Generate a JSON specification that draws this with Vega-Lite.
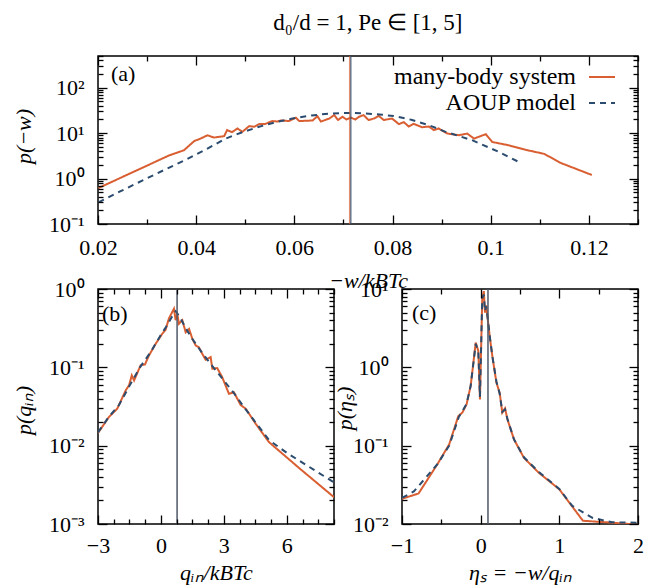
{
  "$schema": "https://vega.github.io/schema/vega-lite/v6.json",
  "background": "white",
  "padding": {"left": 11, "top": 11, "right": 10, "bottom": 5},
  "title": {"text": "d₀/d = 1, Pe ∈ [1, 5]", "anchor": "start", "frame": "bounds", "dx": 262, "fontSize": 23, "font": "Liberation Serif", "fontWeight": "normal", "color": "black", "offset": 20},
  "bounds": "flush",
  "spacing": 65,
  "resolve": {"scale": {"color": "independent", "strokeDash": "independent"}},
  "datasets": {
    "a": [
      {"x": 0.0201, "p": 0.62, "series": "many-body system"},
      {"x": 0.0345, "p": 3.24, "series": "many-body system"},
      {"x": 0.0375, "p": 4.2, "series": "many-body system"},
      {"x": 0.0396, "p": 6.7, "series": "many-body system"},
      {"x": 0.0409, "p": 7.6, "series": "many-body system"},
      {"x": 0.0423, "p": 9.0, "series": "many-body system"},
      {"x": 0.0436, "p": 8.0, "series": "many-body system"},
      {"x": 0.0457, "p": 8.6, "series": "many-body system"},
      {"x": 0.0463, "p": 11.7, "series": "many-body system"},
      {"x": 0.0473, "p": 10.5, "series": "many-body system"},
      {"x": 0.0484, "p": 12.7, "series": "many-body system"},
      {"x": 0.0494, "p": 10.7, "series": "many-body system"},
      {"x": 0.0508, "p": 14.3, "series": "many-body system"},
      {"x": 0.0518, "p": 13.8, "series": "many-body system"},
      {"x": 0.0528, "p": 15.8, "series": "many-body system"},
      {"x": 0.0541, "p": 16, "series": "many-body system"},
      {"x": 0.0555, "p": 18.5, "series": "many-body system"},
      {"x": 0.0565, "p": 18, "series": "many-body system"},
      {"x": 0.0572, "p": 19, "series": "many-body system"},
      {"x": 0.0589, "p": 18.5, "series": "many-body system"},
      {"x": 0.0603, "p": 21.9, "series": "many-body system"},
      {"x": 0.061, "p": 18.5, "series": "many-body system"},
      {"x": 0.0637, "p": 19, "series": "many-body system"},
      {"x": 0.0647, "p": 23.6, "series": "many-body system"},
      {"x": 0.0654, "p": 18, "series": "many-body system"},
      {"x": 0.0671, "p": 21, "series": "many-body system"},
      {"x": 0.0681, "p": 25, "series": "many-body system"},
      {"x": 0.0689, "p": 19.5, "series": "many-body system"},
      {"x": 0.0698, "p": 23, "series": "many-body system"},
      {"x": 0.0706, "p": 20, "series": "many-body system"},
      {"x": 0.0715, "p": 22, "series": "many-body system"},
      {"x": 0.0724, "p": 20, "series": "many-body system"},
      {"x": 0.0732, "p": 23, "series": "many-body system"},
      {"x": 0.0741, "p": 25, "series": "many-body system"},
      {"x": 0.0751, "p": 19.5, "series": "many-body system"},
      {"x": 0.0762, "p": 21, "series": "many-body system"},
      {"x": 0.0772, "p": 24, "series": "many-body system"},
      {"x": 0.0782, "p": 19.5, "series": "many-body system"},
      {"x": 0.0799, "p": 21, "series": "many-body system"},
      {"x": 0.0813, "p": 15.8, "series": "many-body system"},
      {"x": 0.0823, "p": 17.5, "series": "many-body system"},
      {"x": 0.0833, "p": 14, "series": "many-body system"},
      {"x": 0.0843, "p": 16, "series": "many-body system"},
      {"x": 0.086, "p": 13.5, "series": "many-body system"},
      {"x": 0.0874, "p": 14, "series": "many-body system"},
      {"x": 0.0884, "p": 11.7, "series": "many-body system"},
      {"x": 0.0894, "p": 12.7, "series": "many-body system"},
      {"x": 0.0912, "p": 9.8, "series": "many-body system"},
      {"x": 0.0935, "p": 9.0, "series": "many-body system"},
      {"x": 0.0952, "p": 9.8, "series": "many-body system"},
      {"x": 0.0966, "p": 7.6, "series": "many-body system"},
      {"x": 0.099, "p": 9.5, "series": "many-body system"},
      {"x": 0.1003, "p": 6.4, "series": "many-body system"},
      {"x": 0.1037, "p": 5.4, "series": "many-body system"},
      {"x": 0.1071, "p": 4.3, "series": "many-body system"},
      {"x": 0.1109, "p": 3.5, "series": "many-body system"},
      {"x": 0.1143, "p": 2.2, "series": "many-body system"},
      {"x": 0.1206, "p": 1.2, "series": "many-body system"},
      {"x": 0.0201, "p": 0.30, "series": "AOUP model"},
      {"x": 0.0245, "p": 0.52, "series": "AOUP model"},
      {"x": 0.029, "p": 0.90, "series": "AOUP model"},
      {"x": 0.0335, "p": 1.55, "series": "AOUP model"},
      {"x": 0.0382, "p": 2.7, "series": "AOUP model"},
      {"x": 0.042, "p": 4.4, "series": "AOUP model"},
      {"x": 0.046, "p": 7.6, "series": "AOUP model"},
      {"x": 0.0494, "p": 10.5, "series": "AOUP model"},
      {"x": 0.0528, "p": 13.8, "series": "AOUP model"},
      {"x": 0.0562, "p": 17.5, "series": "AOUP model"},
      {"x": 0.0596, "p": 21, "series": "AOUP model"},
      {"x": 0.0635, "p": 24.5, "series": "AOUP model"},
      {"x": 0.0671, "p": 27, "series": "AOUP model"},
      {"x": 0.0718, "p": 28, "series": "AOUP model"},
      {"x": 0.0745, "p": 27, "series": "AOUP model"},
      {"x": 0.0779, "p": 25.5, "series": "AOUP model"},
      {"x": 0.0806, "p": 23.5, "series": "AOUP model"},
      {"x": 0.084, "p": 19.5, "series": "AOUP model"},
      {"x": 0.0874, "p": 15, "series": "AOUP model"},
      {"x": 0.0908, "p": 10.7, "series": "AOUP model"},
      {"x": 0.0962, "p": 7.0, "series": "AOUP model"},
      {"x": 0.1017, "p": 3.85, "series": "AOUP model"},
      {"x": 0.1058, "p": 2.3, "series": "AOUP model"}
    ],
    "b": [
      {"x": -3, "p": 0.0145, "series": "many-body system"},
      {"x": -2.48, "p": 0.0232, "series": "many-body system"},
      {"x": -2.08, "p": 0.0297, "series": "many-body system"},
      {"x": -1.68, "p": 0.0508, "series": "many-body system"},
      {"x": -1.52, "p": 0.059, "series": "many-body system"},
      {"x": -1.39, "p": 0.079, "series": "many-body system"},
      {"x": -1.28, "p": 0.068, "series": "many-body system"},
      {"x": -0.97, "p": 0.106, "series": "many-body system"},
      {"x": -0.76, "p": 0.109, "series": "many-body system"},
      {"x": -0.57, "p": 0.142, "series": "many-body system"},
      {"x": -0.25, "p": 0.20, "series": "many-body system"},
      {"x": -0.09, "p": 0.232, "series": "many-body system"},
      {"x": 0.07, "p": 0.27, "series": "many-body system"},
      {"x": 0.22, "p": 0.30, "series": "many-body system"},
      {"x": 0.38, "p": 0.42, "series": "many-body system"},
      {"x": 0.54, "p": 0.51, "series": "many-body system"},
      {"x": 0.62, "p": 0.56, "series": "many-body system"},
      {"x": 0.7, "p": 0.40, "series": "many-body system"},
      {"x": 0.78, "p": 0.48, "series": "many-body system"},
      {"x": 0.86, "p": 0.36, "series": "many-body system"},
      {"x": 1.02, "p": 0.40, "series": "many-body system"},
      {"x": 1.18, "p": 0.28, "series": "many-body system"},
      {"x": 1.34, "p": 0.31, "series": "many-body system"},
      {"x": 1.5, "p": 0.23, "series": "many-body system"},
      {"x": 1.66, "p": 0.19, "series": "many-body system"},
      {"x": 1.81, "p": 0.18, "series": "many-body system"},
      {"x": 1.97, "p": 0.149, "series": "many-body system"},
      {"x": 2.13, "p": 0.125, "series": "many-body system"},
      {"x": 2.37, "p": 0.135, "series": "many-body system"},
      {"x": 2.45, "p": 0.096, "series": "many-body system"},
      {"x": 2.68, "p": 0.098, "series": "many-body system"},
      {"x": 2.92, "p": 0.075, "series": "many-body system"},
      {"x": 3.24, "p": 0.046, "series": "many-body system"},
      {"x": 3.48, "p": 0.048, "series": "many-body system"},
      {"x": 3.8, "p": 0.033, "series": "many-body system"},
      {"x": 4.04, "p": 0.0297, "series": "many-body system"},
      {"x": 4.52, "p": 0.019, "series": "many-body system"},
      {"x": 5.15, "p": 0.0111, "series": "many-body system"},
      {"x": 6.58, "p": 0.0052, "series": "many-body system"},
      {"x": 8.25, "p": 0.0022, "series": "many-body system"},
      {"x": -3, "p": 0.0148, "series": "AOUP model"},
      {"x": -2.5, "p": 0.023, "series": "AOUP model"},
      {"x": -2, "p": 0.033, "series": "AOUP model"},
      {"x": -1.5, "p": 0.058, "series": "AOUP model"},
      {"x": -1, "p": 0.10, "series": "AOUP model"},
      {"x": -0.5, "p": 0.155, "series": "AOUP model"},
      {"x": 0, "p": 0.26, "series": "AOUP model"},
      {"x": 0.25, "p": 0.33, "series": "AOUP model"},
      {"x": 0.5, "p": 0.43, "series": "AOUP model"},
      {"x": 0.7, "p": 0.52, "series": "AOUP model"},
      {"x": 0.9, "p": 0.44, "series": "AOUP model"},
      {"x": 1.2, "p": 0.31, "series": "AOUP model"},
      {"x": 1.5, "p": 0.23, "series": "AOUP model"},
      {"x": 2, "p": 0.148, "series": "AOUP model"},
      {"x": 2.5, "p": 0.10, "series": "AOUP model"},
      {"x": 3, "p": 0.068, "series": "AOUP model"},
      {"x": 3.5, "p": 0.046, "series": "AOUP model"},
      {"x": 4, "p": 0.030, "series": "AOUP model"},
      {"x": 4.5, "p": 0.020, "series": "AOUP model"},
      {"x": 5.15, "p": 0.0118, "series": "AOUP model"},
      {"x": 6, "p": 0.0081, "series": "AOUP model"},
      {"x": 7, "p": 0.0055, "series": "AOUP model"},
      {"x": 8.25, "p": 0.0034, "series": "AOUP model"}
    ],
    "c": [
      {"x": -1.0, "p": 0.021, "series": "many-body system"},
      {"x": -0.79, "p": 0.0245, "series": "many-body system"},
      {"x": -0.55, "p": 0.058, "series": "many-body system"},
      {"x": -0.40, "p": 0.104, "series": "many-body system"},
      {"x": -0.284, "p": 0.239, "series": "many-body system"},
      {"x": -0.233, "p": 0.264, "series": "many-body system"},
      {"x": -0.18, "p": 0.336, "series": "many-body system"},
      {"x": -0.127, "p": 0.58, "series": "many-body system"},
      {"x": -0.063, "p": 2.07, "series": "many-body system"},
      {"x": -0.03, "p": 1.62, "series": "many-body system"},
      {"x": -0.009, "p": 0.39, "series": "many-body system"},
      {"x": 0.02, "p": 7.4, "series": "many-body system"},
      {"x": 0.04, "p": 9.4, "series": "many-body system"},
      {"x": 0.055, "p": 5.0, "series": "many-body system"},
      {"x": 0.07, "p": 6.2, "series": "many-body system"},
      {"x": 0.09, "p": 4.1, "series": "many-body system"},
      {"x": 0.12, "p": 2.28, "series": "many-body system"},
      {"x": 0.148, "p": 1.4, "series": "many-body system"},
      {"x": 0.2, "p": 0.64, "series": "many-body system"},
      {"x": 0.242, "p": 0.47, "series": "many-body system"},
      {"x": 0.275, "p": 0.264, "series": "many-body system"},
      {"x": 0.31, "p": 0.30, "series": "many-body system"},
      {"x": 0.34, "p": 0.217, "series": "many-body system"},
      {"x": 0.424, "p": 0.12, "series": "many-body system"},
      {"x": 0.55, "p": 0.070, "series": "many-body system"},
      {"x": 0.74, "p": 0.045, "series": "many-body system"},
      {"x": 1.0, "p": 0.0277, "series": "many-body system"},
      {"x": 1.3, "p": 0.011, "series": "many-body system"},
      {"x": 1.48, "p": 0.0107, "series": "many-body system"},
      {"x": 1.67, "p": 0.0104, "series": "many-body system"},
      {"x": 2.0, "p": 0.0098, "series": "many-body system"},
      {"x": -1.0, "p": 0.0215, "series": "AOUP model"},
      {"x": -0.85, "p": 0.026, "series": "AOUP model"},
      {"x": -0.55, "p": 0.058, "series": "AOUP model"},
      {"x": -0.40, "p": 0.100, "series": "AOUP model"},
      {"x": -0.28, "p": 0.23, "series": "AOUP model"},
      {"x": -0.18, "p": 0.34, "series": "AOUP model"},
      {"x": -0.127, "p": 0.58, "series": "AOUP model"},
      {"x": -0.063, "p": 2.0, "series": "AOUP model"},
      {"x": -0.03, "p": 1.6, "series": "AOUP model"},
      {"x": -0.009, "p": 0.42, "series": "AOUP model"},
      {"x": 0.02, "p": 7.6, "series": "AOUP model"},
      {"x": 0.04, "p": 8.5, "series": "AOUP model"},
      {"x": 0.055, "p": 5.2, "series": "AOUP model"},
      {"x": 0.07, "p": 6.0, "series": "AOUP model"},
      {"x": 0.09, "p": 4.2, "series": "AOUP model"},
      {"x": 0.12, "p": 2.3, "series": "AOUP model"},
      {"x": 0.148, "p": 1.4, "series": "AOUP model"},
      {"x": 0.2, "p": 0.66, "series": "AOUP model"},
      {"x": 0.242, "p": 0.46, "series": "AOUP model"},
      {"x": 0.275, "p": 0.27, "series": "AOUP model"},
      {"x": 0.31, "p": 0.29, "series": "AOUP model"},
      {"x": 0.34, "p": 0.22, "series": "AOUP model"},
      {"x": 0.424, "p": 0.12, "series": "AOUP model"},
      {"x": 0.55, "p": 0.071, "series": "AOUP model"},
      {"x": 0.74, "p": 0.046, "series": "AOUP model"},
      {"x": 1.0, "p": 0.028, "series": "AOUP model"},
      {"x": 1.165, "p": 0.017, "series": "AOUP model"},
      {"x": 1.42, "p": 0.012, "series": "AOUP model"},
      {"x": 1.67, "p": 0.0105, "series": "AOUP model"},
      {"x": 2.0, "p": 0.0104, "series": "AOUP model"}
    ],
    "vlines": [
      {"panel": "a", "series": "many-body system", "x": 0.07127},
      {"panel": "a", "series": "AOUP model", "x": 0.0715},
      {"panel": "b", "series": "mean", "x": 0.77},
      {"panel": "c", "series": "mean", "x": 0.093}
    ]
  },
  "vconcat": [
    {
      "width": 540,
      "height": 168,
      "title": {"text": "(a)", "anchor": "start", "orient": "top", "frame": "group", "offset": 0, "dx": 13, "dy": 48, "baseline": "alphabetic", "fontSize": 22, "font": "Liberation Serif", "fontWeight": "normal", "color": "black"},
      "resolve": {"axis": {"x": "independent", "y": "independent"}},
      "layer": [
        {
          "data": {"name": "a"},
          "mark": {"type": "line", "strokeWidth": 2, "clip": true},
          "encoding": {
            "x": {"field": "x", "type": "quantitative", "scale": {"domain": [0.02, 0.13], "nice": false, "zero": false},
              "axis": {"orient": "bottom", "ticks": false, "labelPadding": 13, "title": "−w/kBTc", "titleX": 270, "titleY": 63, "titleBaseline": "alphabetic", "titleAlign": "center",
                "values": [0.02, 0.04, 0.06, 0.08, 0.1, 0.12], "format": "~g"}},
            "y": {"field": "p", "type": "quantitative", "scale": {"type": "log", "domain": [0.1, 500], "nice": false},
              "axis": {"orient": "left", "ticks": false, "labelPadding": 14, "title": "p(−w)", "titleX": -68, "titleY": 80, "titleBaseline": "alphabetic", "titleAlign": "center", "titleAngle": 270,
                "values": [0.1, 1, 10, 100],
                "labelExpr": "'10' + ['⁻³','⁻²','⁻¹','⁰','¹','²','³'][round(log(datum.value)/LN10)+3]"}},
            "color": {"field": "series", "type": "nominal", "scale": {"domain": ["many-body system", "AOUP model"], "range": ["#d95f32", "#2b4c6f"]},
              "legend": {"orient": "none", "legendX": 490, "legendY": 7, "title": null, "labelAlign": "right", "labelOffset": -40, "labelLimit": 400, "symbolType": "stroke", "symbolSize": 676, "symbolStrokeWidth": 2, "rowPadding": 0, "padding": 0, "labelFontSize": 24, "labelFont": "Liberation Serif", "labelColor": "black"}},
            "strokeDash": {"field": "series", "type": "nominal", "scale": {"domain": ["many-body system", "AOUP model"], "range": [[1, 0], [6, 5]]},
              "legend": {"orient": "none", "legendX": 490, "legendY": 7, "title": null, "labelAlign": "right", "labelOffset": -40, "labelLimit": 400, "symbolType": "stroke", "symbolSize": 676, "symbolStrokeWidth": 2, "rowPadding": 0, "padding": 0, "labelFontSize": 24, "labelFont": "Liberation Serif", "labelColor": "black"}}
          }
        },
        {
          "data": {"name": "vlines"},
          "transform": [{"filter": "datum.panel == 'a' && datum.series == 'many-body system'"}],
          "mark": {"type": "rule", "color": "#d95f32", "opacity": 0.7, "strokeWidth": 1.5},
          "encoding": {"x": {"field": "x", "type": "quantitative", "scale": {"domain": [0.02, 0.13], "nice": false, "zero": false}, "axis": null}}
        },
        {
          "data": {"name": "vlines"},
          "transform": [{"filter": "datum.panel == 'a' && datum.series == 'AOUP model'"}],
          "mark": {"type": "rule", "color": "#2b4c6f", "opacity": 0.7, "strokeWidth": 1.5},
          "encoding": {"x": {"field": "x", "type": "quantitative", "scale": {"domain": [0.02, 0.13], "nice": false, "zero": false}, "axis": null}}
        },
        {
          "data": {"name": "a"},
          "mark": {"type": "line", "opacity": 0, "strokeWidth": 0},
          "encoding": {
            "x": {"field": "x", "type": "quantitative", "scale": {"domain": [0.02, 0.13], "nice": false, "zero": false},
              "axis": {"orient": "top", "offset": -168, "zindex": 1, "labels": false, "title": null, "tickSize": 9, "values": [0.02, 0.04, 0.06, 0.08, 0.1, 0.12]}},
            "y": {"field": "p", "type": "quantitative", "scale": {"type": "log", "domain": [0.1, 500], "nice": false},
              "axis": {"orient": "right", "offset": -540, "zindex": 1, "labels": false, "title": null, "tickSize": 9, "values": [0.1, 1, 10, 100]}}
          }
        },
        {
          "data": {"name": "a"},
          "mark": {"type": "line", "opacity": 0, "strokeWidth": 0},
          "encoding": {
            "x": {"field": "x", "type": "quantitative", "scale": {"domain": [0.02, 0.13], "nice": false, "zero": false},
              "axis": {"orient": "top", "offset": -168, "zindex": 1, "labels": false, "title": null, "tickSize": 5, "values": [0.03, 0.05, 0.07, 0.09, 0.11, 0.13]}},
            "y": {"field": "p", "type": "quantitative", "scale": {"type": "log", "domain": [0.1, 500], "nice": false},
              "axis": {"orient": "right", "offset": -540, "zindex": 1, "labels": false, "title": null, "tickSize": 5, "values": [0.2, 0.3, 0.4, 0.5, 0.6, 0.7, 0.8, 0.9, 2, 3, 4, 5, 6, 7, 8, 9, 20, 30, 40, 50, 60, 70, 80, 90, 200, 300, 400, 500]}}
          }
        },
        {
          "data": {"name": "a"},
          "mark": {"type": "line", "opacity": 0, "strokeWidth": 0},
          "encoding": {
            "x": {"field": "x", "type": "quantitative", "scale": {"domain": [0.02, 0.13], "nice": false, "zero": false},
              "axis": {"orient": "bottom", "offset": -168, "zindex": 1, "labels": false, "title": null, "tickSize": 9, "values": [0.02, 0.04, 0.06, 0.08, 0.1, 0.12]}},
            "y": {"field": "p", "type": "quantitative", "scale": {"type": "log", "domain": [0.1, 500], "nice": false},
              "axis": {"orient": "left", "offset": -540, "zindex": 1, "labels": false, "title": null, "tickSize": 9, "values": [0.1, 1, 10, 100]}}
          }
        },
        {
          "data": {"name": "a"},
          "mark": {"type": "line", "opacity": 0, "strokeWidth": 0},
          "encoding": {
            "x": {"field": "x", "type": "quantitative", "scale": {"domain": [0.02, 0.13], "nice": false, "zero": false},
              "axis": {"orient": "bottom", "offset": -168, "zindex": 1, "labels": false, "title": null, "tickSize": 5, "values": [0.03, 0.05, 0.07, 0.09, 0.11, 0.13]}},
            "y": {"field": "p", "type": "quantitative", "scale": {"type": "log", "domain": [0.1, 500], "nice": false},
              "axis": {"orient": "left", "offset": -540, "zindex": 1, "labels": false, "title": null, "tickSize": 5, "values": [0.2, 0.3, 0.4, 0.5, 0.6, 0.7, 0.8, 0.9, 2, 3, 4, 5, 6, 7, 8, 9, 20, 30, 40, 50, 60, 70, 80, 90, 200, 300, 400, 500]}}
          }
        }
      ]
    },
    {
      "bounds": "flush",
      "spacing": 68,
      "resolve": {"scale": {"color": "independent", "strokeDash": "independent"}},
      "hconcat": [
        {
          "width": 236,
          "height": 235,
          "title": {"text": "(b)", "anchor": "start", "orient": "top", "frame": "group", "offset": 0, "dx": 4, "dy": 65, "baseline": "alphabetic", "fontSize": 22, "font": "Liberation Serif", "fontWeight": "normal", "color": "black"},
          "resolve": {"axis": {"x": "independent", "y": "independent"}},
          "layer": [
            {
              "data": {"name": "b"},
              "mark": {"type": "line", "strokeWidth": 2, "clip": true},
              "encoding": {
                "x": {"field": "x", "type": "quantitative", "scale": {"domain": [-3, 8.25], "nice": false, "zero": false},
                  "axis": {"orient": "bottom", "ticks": false, "labelPadding": 11, "title": "qᵢₙ/kBTc", "titleX": 118, "titleY": 55, "titleBaseline": "alphabetic", "titleAlign": "center",
                    "values": [-3, 0, 3, 6], "format": "d"}},
                "y": {"field": "p", "type": "quantitative", "scale": {"type": "log", "domain": [0.001, 1], "nice": false},
                  "axis": {"orient": "left", "ticks": false, "labelPadding": 14, "title": "p(qᵢₙ)", "titleX": -68, "titleY": 121, "titleBaseline": "alphabetic", "titleAlign": "center", "titleAngle": 270,
                    "values": [0.001, 0.01, 0.1, 1],
                    "labelExpr": "'10' + ['⁻³','⁻²','⁻¹','⁰','¹','²','³'][round(log(datum.value)/LN10)+3]"}},
                "color": {"field": "series", "type": "nominal", "scale": {"domain": ["many-body system", "AOUP model"], "range": ["#d95f32", "#2b4c6f"]}, "legend": null},
                "strokeDash": {"field": "series", "type": "nominal", "scale": {"domain": ["many-body system", "AOUP model"], "range": [[1, 0], [6, 5]]}, "legend": null}
              }
            },
            {
              "data": {"name": "vlines"},
              "transform": [{"filter": "datum.panel == 'b'"}],
              "mark": {"type": "rule", "color": "#4f5868", "strokeWidth": 1.5},
              "encoding": {"x": {"field": "x", "type": "quantitative", "scale": {"domain": [-3, 8.25], "nice": false, "zero": false}, "axis": null}}
            },
            {
              "data": {"name": "b"},
              "mark": {"type": "line", "opacity": 0, "strokeWidth": 0},
              "encoding": {
                "x": {"field": "x", "type": "quantitative", "scale": {"domain": [-3, 8.25], "nice": false, "zero": false},
                  "axis": {"orient": "top", "offset": -235, "zindex": 1, "labels": false, "title": null, "tickSize": 9, "values": [-3, 0, 3, 6]}},
                "y": {"field": "p", "type": "quantitative", "scale": {"type": "log", "domain": [0.001, 1], "nice": false},
                  "axis": {"orient": "right", "offset": -236, "zindex": 1, "labels": false, "title": null, "tickSize": 9, "values": [0.001, 0.01, 0.1, 1]}}
              }
            },
            {
              "data": {"name": "b"},
              "mark": {"type": "line", "opacity": 0, "strokeWidth": 0},
              "encoding": {
                "x": {"field": "x", "type": "quantitative", "scale": {"domain": [-3, 8.25], "nice": false, "zero": false},
                  "axis": {"orient": "top", "offset": -235, "zindex": 1, "labels": false, "title": null, "tickSize": 5, "values": [-2.25, -1.5, -0.75, 0.75, 1.5, 2.25, 3.75, 4.5, 5.25, 6.75, 7.5, 8.25]}},
                "y": {"field": "p", "type": "quantitative", "scale": {"type": "log", "domain": [0.001, 1], "nice": false},
                  "axis": {"orient": "right", "offset": -236, "zindex": 1, "labels": false, "title": null, "tickSize": 5, "values": [0.002, 0.003, 0.004, 0.005, 0.006, 0.007, 0.008, 0.009, 0.02, 0.03, 0.04, 0.05, 0.06, 0.07, 0.08, 0.09, 0.2, 0.3, 0.4, 0.5, 0.6, 0.7, 0.8, 0.9]}}
              }
            },
            {
              "data": {"name": "b"},
              "mark": {"type": "line", "opacity": 0, "strokeWidth": 0},
              "encoding": {
                "x": {"field": "x", "type": "quantitative", "scale": {"domain": [-3, 8.25], "nice": false, "zero": false},
                  "axis": {"orient": "bottom", "offset": -235, "zindex": 1, "labels": false, "title": null, "tickSize": 9, "values": [-3, 0, 3, 6]}},
                "y": {"field": "p", "type": "quantitative", "scale": {"type": "log", "domain": [0.001, 1], "nice": false},
                  "axis": {"orient": "left", "offset": -236, "zindex": 1, "labels": false, "title": null, "tickSize": 9, "values": [0.001, 0.01, 0.1, 1]}}
              }
            },
            {
              "data": {"name": "b"},
              "mark": {"type": "line", "opacity": 0, "strokeWidth": 0},
              "encoding": {
                "x": {"field": "x", "type": "quantitative", "scale": {"domain": [-3, 8.25], "nice": false, "zero": false},
                  "axis": {"orient": "bottom", "offset": -235, "zindex": 1, "labels": false, "title": null, "tickSize": 5, "values": [-2.25, -1.5, -0.75, 0.75, 1.5, 2.25, 3.75, 4.5, 5.25, 6.75, 7.5, 8.25]}},
                "y": {"field": "p", "type": "quantitative", "scale": {"type": "log", "domain": [0.001, 1], "nice": false},
                  "axis": {"orient": "left", "offset": -236, "zindex": 1, "labels": false, "title": null, "tickSize": 5, "values": [0.002, 0.003, 0.004, 0.005, 0.006, 0.007, 0.008, 0.009, 0.02, 0.03, 0.04, 0.05, 0.06, 0.07, 0.08, 0.09, 0.2, 0.3, 0.4, 0.5, 0.6, 0.7, 0.8, 0.9]}}
              }
            }
          ]
        },
        {
          "width": 236,
          "height": 235,
          "title": {"text": "(c)", "anchor": "start", "orient": "top", "frame": "group", "offset": 0, "dx": 10, "dy": 64, "baseline": "alphabetic", "fontSize": 22, "font": "Liberation Serif", "fontWeight": "normal", "color": "black"},
          "resolve": {"axis": {"x": "independent", "y": "independent"}},
          "layer": [
            {
              "data": {"name": "c"},
              "mark": {"type": "line", "strokeWidth": 2, "clip": true},
              "encoding": {
                "x": {"field": "x", "type": "quantitative", "scale": {"domain": [-1, 2], "nice": false, "zero": false},
                  "axis": {"orient": "bottom", "ticks": false, "labelPadding": 11, "title": "ηₛ = −w/qᵢₙ", "titleX": 118, "titleY": 55, "titleBaseline": "alphabetic", "titleAlign": "center",
                    "values": [-1, 0, 1, 2], "format": "d"}},
                "y": {"field": "p", "type": "quantitative", "scale": {"type": "log", "domain": [0.01, 10], "nice": false},
                  "axis": {"orient": "left", "ticks": false, "labelPadding": 14, "title": "p(ηₛ)", "titleX": -51, "titleY": 119, "titleBaseline": "alphabetic", "titleAlign": "center", "titleAngle": 270,
                    "values": [0.01, 0.1, 1, 10],
                    "labelExpr": "'10' + ['⁻³','⁻²','⁻¹','⁰','¹','²','³'][round(log(datum.value)/LN10)+3]"}},
                "color": {"field": "series", "type": "nominal", "scale": {"domain": ["many-body system", "AOUP model"], "range": ["#d95f32", "#2b4c6f"]}, "legend": null},
                "strokeDash": {"field": "series", "type": "nominal", "scale": {"domain": ["many-body system", "AOUP model"], "range": [[1, 0], [6, 5]]}, "legend": null}
              }
            },
            {
              "data": {"name": "vlines"},
              "transform": [{"filter": "datum.panel == 'c'"}],
              "mark": {"type": "rule", "color": "#4f5868", "strokeWidth": 1.5},
              "encoding": {"x": {"field": "x", "type": "quantitative", "scale": {"domain": [-1, 2], "nice": false, "zero": false}, "axis": null}}
            },
            {
              "data": {"name": "c"},
              "mark": {"type": "line", "opacity": 0, "strokeWidth": 0},
              "encoding": {
                "x": {"field": "x", "type": "quantitative", "scale": {"domain": [-1, 2], "nice": false, "zero": false},
                  "axis": {"orient": "top", "offset": -235, "zindex": 1, "labels": false, "title": null, "tickSize": 9, "values": [-1, 0, 1, 2]}},
                "y": {"field": "p", "type": "quantitative", "scale": {"type": "log", "domain": [0.01, 10], "nice": false},
                  "axis": {"orient": "right", "offset": -236, "zindex": 1, "labels": false, "title": null, "tickSize": 9, "values": [0.01, 0.1, 1, 10]}}
              }
            },
            {
              "data": {"name": "c"},
              "mark": {"type": "line", "opacity": 0, "strokeWidth": 0},
              "encoding": {
                "x": {"field": "x", "type": "quantitative", "scale": {"domain": [-1, 2], "nice": false, "zero": false},
                  "axis": {"orient": "top", "offset": -235, "zindex": 1, "labels": false, "title": null, "tickSize": 5, "values": [-0.5, 0.5, 1.5]}},
                "y": {"field": "p", "type": "quantitative", "scale": {"type": "log", "domain": [0.01, 10], "nice": false},
                  "axis": {"orient": "right", "offset": -236, "zindex": 1, "labels": false, "title": null, "tickSize": 5, "values": [0.02, 0.03, 0.04, 0.05, 0.06, 0.07, 0.08, 0.09, 0.2, 0.3, 0.4, 0.5, 0.6, 0.7, 0.8, 0.9, 2, 3, 4, 5, 6, 7, 8, 9]}}
              }
            },
            {
              "data": {"name": "c"},
              "mark": {"type": "line", "opacity": 0, "strokeWidth": 0},
              "encoding": {
                "x": {"field": "x", "type": "quantitative", "scale": {"domain": [-1, 2], "nice": false, "zero": false},
                  "axis": {"orient": "bottom", "offset": -235, "zindex": 1, "labels": false, "title": null, "tickSize": 9, "values": [-1, 0, 1, 2]}},
                "y": {"field": "p", "type": "quantitative", "scale": {"type": "log", "domain": [0.01, 10], "nice": false},
                  "axis": {"orient": "left", "offset": -236, "zindex": 1, "labels": false, "title": null, "tickSize": 9, "values": [0.01, 0.1, 1, 10]}}
              }
            },
            {
              "data": {"name": "c"},
              "mark": {"type": "line", "opacity": 0, "strokeWidth": 0},
              "encoding": {
                "x": {"field": "x", "type": "quantitative", "scale": {"domain": [-1, 2], "nice": false, "zero": false},
                  "axis": {"orient": "bottom", "offset": -235, "zindex": 1, "labels": false, "title": null, "tickSize": 5, "values": [-0.5, 0.5, 1.5]}},
                "y": {"field": "p", "type": "quantitative", "scale": {"type": "log", "domain": [0.01, 10], "nice": false},
                  "axis": {"orient": "left", "offset": -236, "zindex": 1, "labels": false, "title": null, "tickSize": 5, "values": [0.02, 0.03, 0.04, 0.05, 0.06, 0.07, 0.08, 0.09, 0.2, 0.3, 0.4, 0.5, 0.6, 0.7, 0.8, 0.9, 2, 3, 4, 5, 6, 7, 8, 9]}}
              }
            }
          ]
        }
      ]
    }
  ],
  "config": {
    "view": {"stroke": "black", "strokeWidth": 1.5},
    "axis": {"grid": false, "domain": false, "tickColor": "black", "tickWidth": 1.3, "labelFont": "Liberation Serif", "labelFontSize": 22, "labelColor": "black", "titleFont": "Liberation Serif", "titleFontSize": 22, "titleFontWeight": "normal", "titleFontStyle": "italic", "titleColor": "black", "labelFlush": false, "labelOverlap": false, "labelBound": false, "labelPadding": 13}
  }
}
